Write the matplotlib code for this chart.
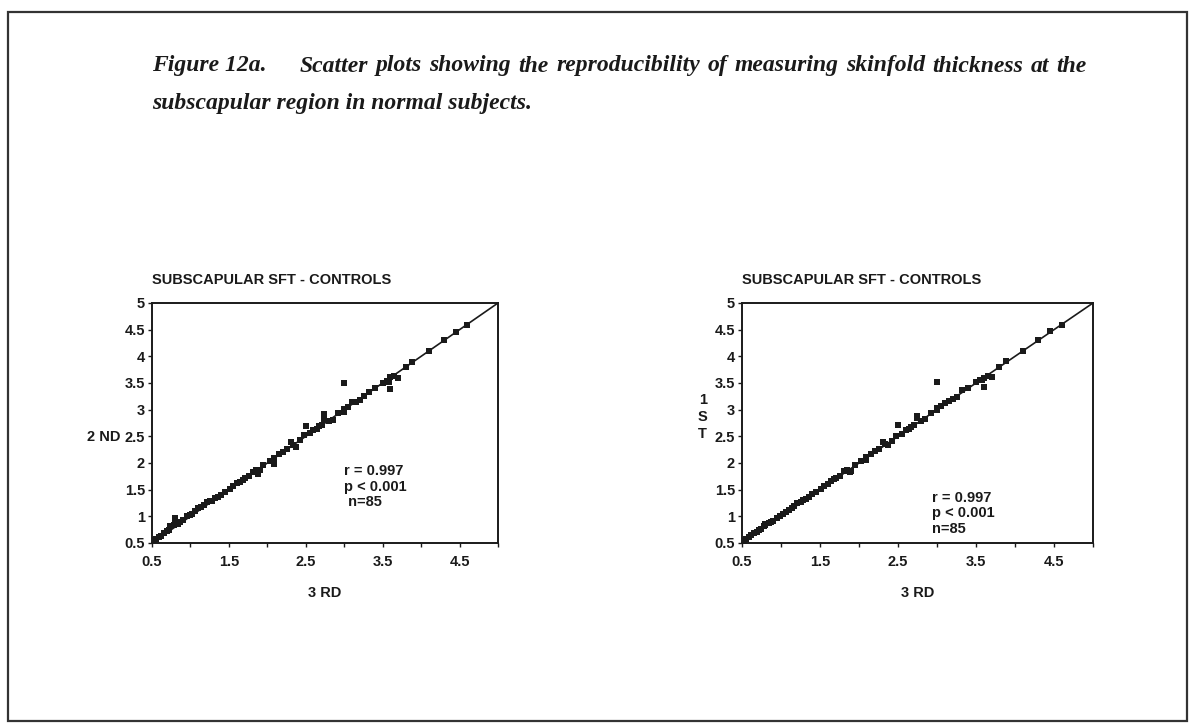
import numpy as np
import matplotlib.pyplot as plt
from matplotlib.patches import Rectangle

# skinfold thickness, third reading (x) vs second and first readings
third = [0.52, 0.55, 0.59, 0.62, 0.65, 0.69, 0.72, 0.74, 0.78, 0.80, 0.80, 0.84,
         0.87, 0.90, 0.95, 0.99, 1.02, 1.06, 1.10, 1.14, 1.17, 1.21, 1.25, 1.28,
         1.32, 1.36, 1.40, 1.45, 1.51, 1.55, 1.60, 1.64, 1.68, 1.71, 1.76, 1.81,
         1.85, 1.88, 1.90, 1.95, 2.03, 2.09, 2.09, 2.15, 2.20, 2.25, 2.31, 2.33,
         2.37, 2.42, 2.48, 2.50, 2.55, 2.60, 2.64, 2.67, 2.71, 2.74, 2.74, 2.80,
         2.85, 2.92, 3.00, 3.00, 3.00, 3.05, 3.10, 3.15, 3.20, 3.26, 3.32, 3.40,
         3.50, 3.55, 3.58, 3.60, 3.60, 3.65, 3.70, 3.80, 3.88, 4.10, 4.30, 4.45, 4.60]

second = [0.56, 0.57, 0.62, 0.64, 0.69, 0.72, 0.75, 0.81, 0.84, 0.92, 0.97, 0.86,
          0.90, 0.93, 1.00, 1.03, 1.05, 1.10, 1.15, 1.17, 1.21, 1.26, 1.28, 1.28,
          1.34, 1.37, 1.40, 1.46, 1.52, 1.56, 1.62, 1.65, 1.68, 1.71, 1.76, 1.83,
          1.86, 1.80, 1.87, 1.96, 2.04, 2.10, 1.99, 2.16, 2.21, 2.26, 2.39, 2.33,
          2.30, 2.43, 2.52, 2.70, 2.57, 2.61, 2.64, 2.70, 2.71, 2.92, 2.83, 2.79,
          2.80, 2.93, 2.95, 3.01, 3.50, 3.05, 3.14, 3.15, 3.18, 3.25, 3.34, 3.41,
          3.50, 3.54, 3.51, 3.39, 3.61, 3.64, 3.60, 3.80, 3.90, 4.10, 4.30, 4.45, 4.58]

first = [0.53, 0.57, 0.61, 0.65, 0.68, 0.70, 0.74, 0.77, 0.82, 0.86, 0.84, 0.87,
         0.89, 0.92, 0.96, 1.00, 1.04, 1.08, 1.11, 1.16, 1.20, 1.25, 1.27, 1.30,
         1.33, 1.37, 1.41, 1.46, 1.51, 1.56, 1.61, 1.66, 1.70, 1.72, 1.76, 1.85,
         1.86, 1.84, 1.85, 1.96, 2.03, 2.12, 2.05, 2.17, 2.22, 2.27, 2.40, 2.35,
         2.33, 2.42, 2.50, 2.72, 2.55, 2.61, 2.64, 2.68, 2.72, 2.88, 2.84, 2.78,
         2.83, 2.93, 3.00, 3.04, 3.51, 3.07, 3.12, 3.17, 3.20, 3.24, 3.36, 3.40,
         3.52, 3.55, 3.56, 3.42, 3.60, 3.63, 3.62, 3.80, 3.92, 4.10, 4.30, 4.47, 4.58]

ticks = [0.5, 1, 1.5, 2, 2.5, 3, 3.5, 4, 4.5, 5]
tick_labels = ["0.5", "1", "1.5", "2", "2.5", "3", "3.5", "4", "4.5", "5"]
x_labels = ["0.5", "", "1.5", "", "2.5", "", "3.5", "", "4.5", ""]
caption_1 = "Scatter plots showing the reproducibility of measuring skinfold thickness at the"
caption_2 = "subscapular region in normal subjects."

plt.rcParams['font.family'] = ['Liberation Sans', 'DejaVu Sans']

W, H = 1193, 724
fig = plt.figure(figsize=(W / 100, H / 100), dpi=100)
fig.patch.set_facecolor('white')

# page border
fig.patches.append(Rectangle((8 / W, 1 - 721 / H), 1179 / W, 709 / H,
                             transform=fig.transFigure, fill=False,
                             edgecolor='#333333', linewidth=1.6))

# caption, first line justified between two x positions
cap_font = dict(family=['Liberation Serif', 'DejaVu Serif'], style='italic',
                fontsize=17, color='#1a1a1a', weight='bold', va='center', ha='left')
renderer = fig.canvas.get_renderer()


def justified(words, x0, x1, y):
    widths = []
    for w in words:
        t = fig.text(0, 0, w, **cap_font)
        widths.append(t.get_window_extent(renderer).width)
        t.remove()
    gap = (x1 - x0 - sum(widths)) / (len(words) - 1)
    x = x0
    for w, wd in zip(words, widths):
        fig.text(x / W, 1 - y / H, w, **cap_font)
        x += wd + gap


fig.text(152 / W, 1 - 66 / H, "Figure 12a.", **cap_font)
justified(caption_1.split(), 300, 1087, 66)
fig.text(152 / W, 1 - 103 / H, caption_2, **cap_font)

txt = dict(fontsize=10.5, color='#1a1a1a', weight='bold')


def scatter_panel(ax, xv, yv, stats, text_pos):
    ax.scatter(xv, yv, marker='s', s=14, color='#1a1a1a', zorder=3, linewidths=0)
    ax.plot([0.5, 5], [0.5, 5], color='#1a1a1a', linewidth=1.2, zorder=2)
    ax.set_xlim(0.5, 5)
    ax.set_ylim(0.5, 5)
    ax.set_xticks(ticks)
    ax.set_xticklabels(x_labels, **txt)
    ax.set_yticks(ticks)
    ax.set_yticklabels(tick_labels, **txt)
    ax.tick_params(direction='out', length=3, width=1, colors='#1a1a1a')
    ax.tick_params(axis='x', pad=6)
    ax.tick_params(axis='y', pad=2)
    for s in ax.spines.values():
        s.set_linewidth(1.4)
        s.set_color('#1a1a1a')
    ax.set_title("SUBSCAPULAR SFT - CONTROLS", loc='left', x=0.0, pad=14, **txt)
    ax.set_xlabel("3 RD", labelpad=12, **txt)
    ax.text(text_pos[0], text_pos[1], stats, va='top', ha='left',
            linespacing=1.15, **txt)


ax1 = fig.add_axes([152 / W, 1 - 543 / H, 346 / W, 240 / H])
scatter_panel(ax1, third, second, "r = 0.997\np < 0.001\n n=85", (3.0, 1.98))
ax1.text(-0.09, 0.44, "2 ND", transform=ax1.transAxes, ha='right', va='center', **txt)

ax2 = fig.add_axes([742 / W, 1 - 543 / H, 351 / W, 240 / H])
scatter_panel(ax2, third, first, "r = 0.997\np < 0.001\nn=85", (2.94, 1.48))
ax2.text(-0.112, 0.525, "1\nS\nT", transform=ax2.transAxes, ha='center', va='center',
         linespacing=1.3, **txt)

fig.savefig("out.png", dpi=100, facecolor='white')
